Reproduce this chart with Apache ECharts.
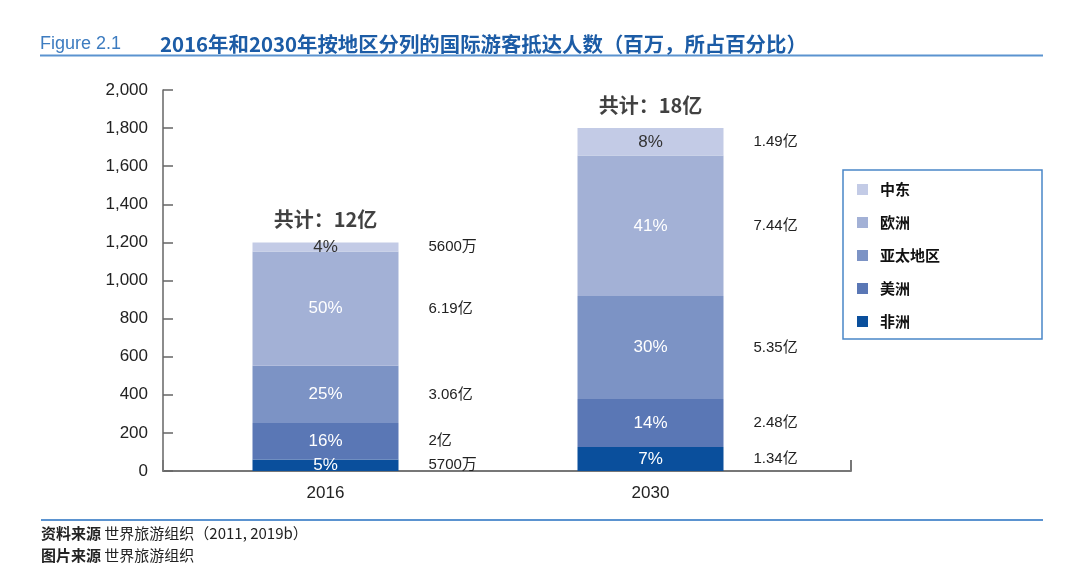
<!DOCTYPE html>
<html>
<head>
<meta charset="utf-8">
<script src="https://cdn.jsdelivr.net/npm/echarts@6/dist/echarts.min.js"></script>
<style>html,body{margin:0;padding:0;background:#fff;}#c{width:1080px;height:571px;}</style>
</head>
<body>
<div id="c"></div>
<script>
// ---- data ----
const years = ['2016', '2030'];
const regions = ['非洲', '美洲', '亚太地区', '欧洲', '中东']; // bottom to top
const africa = [60, 126];
const americas = [192, 252];
const asiaPacific = [300, 540];
const europe = [600, 738];
const middleEast = [48, 144];
const pctAfrica = ['5%', '7%'];
const pctAmericas = ['16%', '14%'];
const pctAsiaPacific = ['25%', '30%'];
const pctEurope = ['50%', '41%'];
const pctMiddleEast = ['4%', '8%'];
const absAfrica = ['5700万', '1.34亿'];
const absAmericas = ['2亿', '2.48亿'];
const absAsiaPacific = ['3.06亿', '5.35亿'];
const absEurope = ['6.19亿', '7.44亿'];
const absMiddleEast = ['5600万', '1.49亿'];
const totals = [1200, 1800];
const totalLabels = ['共计：12亿', '共计：18亿'];
const yTicks = [0, 200, 400, 600, 800, 1000, 1200, 1400, 1600, 1800, 2000];

const colors = ['#0a4f9c', '#5a77b5', '#7c93c5', '#a3b1d6', '#c3cbe6'];
const values = [africa, americas, asiaPacific, europe, middleEast];
const pcts = [pctAfrica, pctAmericas, pctAsiaPacific, pctEurope, pctMiddleEast];
const abss = [absAfrica, absAmericas, absAsiaPacific, absEurope, absMiddleEast];

const numFont = "'Liberation Sans', 'Noto Sans CJK SC', sans-serif";
const cjkFont = "'Noto Sans CJK SC', 'Liberation Sans', sans-serif";

const series = [];
regions.forEach((r, i) => {
  series.push({
    name: r, type: 'bar', stack: 'a', xAxisIndex: 0, yAxisIndex: 0,
    barWidth: 146, barGap: '-100%',
    itemStyle: { color: colors[i] },
    data: values[i],
    label: {
      show: true, position: 'inside',
      formatter: p => pcts[i][p.dataIndex],
      color: i === 4 ? '#333' : '#fff',
      fontSize: 17, fontFamily: numFont
    },
    z: 3
  });
});
regions.forEach((r, i) => {
  series.push({
    name: r + '_v', type: 'bar', stack: 'b', xAxisIndex: 0, yAxisIndex: 0,
    barWidth: 146, barGap: '-100%',
    itemStyle: { color: 'rgba(0,0,0,0)' },
    data: values[i],
    label: {
      show: true, position: 'right', distance: 30,
      formatter: p => abss[i][p.dataIndex],
      color: '#222', fontSize: 15, fontFamily: numFont
    },
    z: 1, silent: true
  });
});
series.push({
  name: 'total', type: 'scatter', xAxisIndex: 0, yAxisIndex: 0,
  symbolSize: 0, data: totals,
  label: {
    show: true, position: 'top', distance: 13,
    formatter: p => totalLabels[p.dataIndex],
    color: '#111', fontSize: 20, fontWeight: 'bold', fontFamily: cjkFont
  },
  silent: true
});
// helper axis for extended x-axis line
series.push({
  name: 'axisHelper', type: 'line', xAxisIndex: 1, yAxisIndex: 1,
  data: [], silent: true
});

const chart = echarts.init(document.getElementById('c'), null, { renderer: 'canvas' });
chart.setOption({
  animation: false,
  backgroundColor: '#fff',
  title: [
    { text: 'Figure 2.1', left: 35, top: 30,
      textStyle: { color: '#3d7cc0', fontSize: 18, fontWeight: 'normal', fontFamily: numFont } },
    { text: '2016年和2030年按地区分列的国际游客抵达人数（百万，所占百分比）', left: 155, top: 29,
      textStyle: { color: '#1c5ca6', fontSize: 20.4, fontWeight: 'bold', fontFamily: cjkFont } }
  ],
  legend: {
    data: ['中东', '欧洲', '亚太地区', '美洲', '非洲'],
    orient: 'vertical', left: 843, top: 170,
    padding: [12, 102, 10, 14],
    itemGap: 18, itemWidth: 11, itemHeight: 11, icon: 'rect',
    borderColor: '#4a86c8', borderWidth: 1.5,
    textStyle: { fontSize: 15, fontWeight: 'bold', color: '#111', fontFamily: cjkFont,
      padding: [0, 0, 0, 7] }
  },
  grid: [
    { left: 163, top: 90, right: 267, bottom: 100 },
    { left: 163, top: 90, right: 229, bottom: 100 }
  ],
  xAxis: [
    { type: 'category', gridIndex: 0, data: years,
      axisLine: { show: false }, axisTick: { show: false },
      axisLabel: { color: '#222', fontSize: 17, margin: 14, fontFamily: numFont } },
    { type: 'value', gridIndex: 1, min: 0, max: 1, interval: 1,
      axisLine: { show: true, lineStyle: { color: '#777', width: 2 } },
      axisTick: { show: true, inside: true, length: 11, lineStyle: { color: '#777', width: 2 } },
      axisLabel: { show: false }, splitLine: { show: false } }
  ],
  yAxis: [
    { type: 'value', gridIndex: 0, min: 0, max: 2000, interval: 200,
      axisLine: { show: true, lineStyle: { color: '#666', width: 1.5 } },
      axisTick: { show: true, inside: true, length: 10, lineStyle: { color: '#666', width: 1.5 } },
      splitLine: { show: false },
      axisLabel: { color: '#222', fontSize: 17, margin: 15, fontFamily: numFont,
        formatter: v => v.toLocaleString('en-US') } },
    { type: 'value', gridIndex: 1, min: 0, max: 1, show: false }
  ],
  graphic: [
    { type: 'line', shape: { x1: 40, y1: 55.5, x2: 1043, y2: 55.5 },
      style: { stroke: '#5b93d0', lineWidth: 2 } },
    { type: 'line', shape: { x1: 41, y1: 520, x2: 1043, y2: 520 },
      style: { stroke: '#5b93d0', lineWidth: 2 } },
    { type: 'text', left: 41, top: 526,
      style: { text: '{b|资料来源} 世界旅游组织（2011, 2019b）',
        fontSize: 15, fill: '#222', fontFamily: cjkFont,
        rich: { b: { fontWeight: 'bold', fontSize: 15, fill: '#222', fontFamily: cjkFont } } } },
    { type: 'text', left: 41, top: 548,
      style: { text: '{b|图片来源} 世界旅游组织',
        fontSize: 15, fill: '#222', fontFamily: cjkFont,
        rich: { b: { fontWeight: 'bold', fontSize: 15, fill: '#222', fontFamily: cjkFont } } } }
  ],
  series: series
});
</script>
</body>
</html>
